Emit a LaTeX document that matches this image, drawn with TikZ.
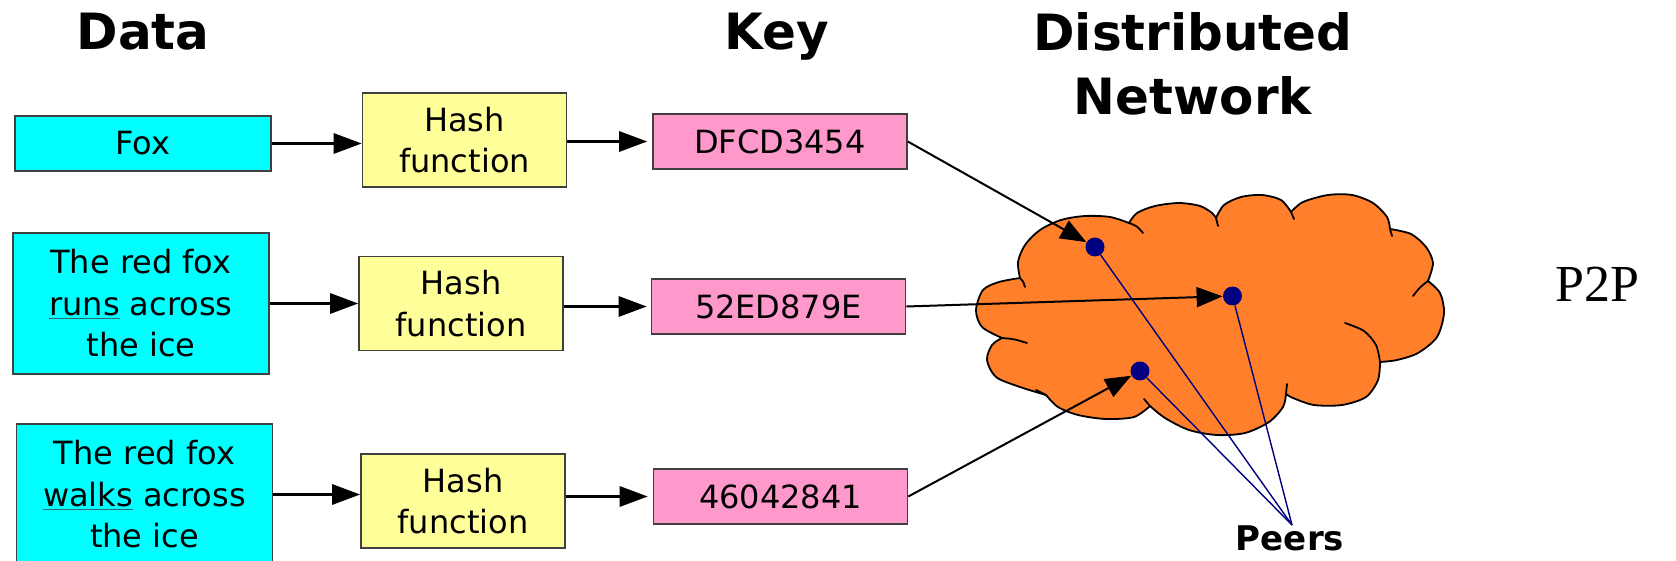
\documentclass[tikz,border=0pt]{standalone}
\usepackage{fontspec}
\setmainfont{DejaVu Sans}
\newfontfamily\ptpfont{Liberation Serif}
\usetikzlibrary{arrows.meta,calc}
\definecolor{datacyan}{HTML}{00FFFF}
\definecolor{hashyellow}{HTML}{FFFF99}
\definecolor{keypink}{HTML}{FF99CC}
\definecolor{cloudorange}{HTML}{FF7F2A}
\definecolor{peernavy}{HTML}{000080}
\definecolor{boxborder}{HTML}{404040}
\definecolor{ulcolor}{HTML}{2F6B6B}
\newcommand{\myul}[1]{\textcolor{ulcolor}{\underline{\textcolor{black}{#1}}}}
\begin{document}
\begin{tikzpicture}[x=0.5pt,y=-0.5pt,
  box/.style={draw=boxborder,line width=0.8pt,inner sep=0pt,align=center,font=\fontsize{16pt}{20.75pt}\selectfont},
  databox/.style={box,fill=datacyan,minimum width=128pt},
  hashbox/.style={box,fill=hashyellow,minimum width=102pt,minimum height=47pt},
  keybox/.style={box,fill=keypink,minimum width=127pt,minimum height=27.5pt},
  titletext/.style={font=\bfseries\fontsize{25pt}{32pt}\selectfont,inner sep=0pt,align=center},
  arr/.style={line width=1.5pt,-{Triangle[length=14pt,width=10pt]}},
  thinarr/.style={line width=1pt,-{Triangle[length=13pt,width=10pt]}},
  peer/.style={circle,fill=peernavy,inner sep=0pt,minimum size=9.5pt},
  peerline/.style={draw=peernavy,line width=0.7pt},
  cloudline/.style={line width=0.9pt,line cap=round,line join=round}
]
\path[use as bounding box,fill=white] (0,0) rectangle (1676,561);

% titles
\node[titletext,anchor=base] (tdata) at (143,50) {Data};
\node[titletext,anchor=base] (tkey) at (776.5,50) {Key};
\node[titletext,anchor=north] (tnet) at (1193,12) {Distributed\\Network};

% data boxes
\node[databox,minimum height=27.5pt] (fox) at (143,143.5) {Fox};
\node[databox,minimum height=70.5pt] (d2) at (141,303.5) {The red fox\\\myul{runs} across\\the ice};
\node[databox,minimum height=70.5pt] (d3) at (144.5,494.5) {The red fox\\\myul{walks} across\\the ice};

% hash boxes
\node[hashbox] (h1) at (464.5,140) {Hash\\function};
\node[hashbox] (h2) at (461,303.5) {Hash\\function};
\node[hashbox] (h3) at (463,501) {Hash\\function};

% key boxes
\node[keybox] (k1) at (780,141.5) {DFCD3454};
\node[keybox] (k2) at (778.5,306.5) {52ED879E};
\node[keybox] (k3) at (780.5,496.5) {46042841};

% cloud
\filldraw[fill=cloudorange,draw=black,cloudline]
  plot[smooth] coordinates {(1020,278) (1018,262) (1025,245) (1040,230) (1061,220) (1085,216) (1110,217) (1129,223)}
  -- plot[smooth] coordinates {(1129,223) (1137,213) (1155,206) (1179,203) (1200,206) (1212,213) (1216,218)}
  -- plot[smooth] coordinates {(1216,218) (1224,205) (1241,197) (1262,195) (1281,200) (1291,212)}
  -- plot[smooth] coordinates {(1291,212) (1303,202) (1328,195) (1352,195) (1373,203) (1387,217) (1390,229)}
  -- plot[smooth] coordinates {(1390,229) (1411,234) (1426,247) (1433,263) (1428,281)}
  -- plot[smooth] coordinates {(1428,281) (1440,293) (1444,313) (1437,337) (1418,353) (1397,360) (1380,362)}
  -- plot[smooth] coordinates {(1380,362) (1378,380) (1366,397) (1342,405) (1314,405) (1293,398) (1286,394)}
  -- plot[smooth] coordinates {(1286,394) (1283,407) (1269,422) (1245,433) (1217,435) (1189,430) (1165,418) (1150,406)}
  -- plot[smooth] coordinates {(1150,406) (1134,417) (1106,419) (1078,415) (1058,407) (1046,395)}
  -- plot[smooth] coordinates {(1046,395) (1020,387) (996,377) (987,360) (992,345) (1002,338)}
  -- plot[smooth] coordinates {(1002,338) (982,327) (976,310) (983,290) (999,282) (1020,278)}
  -- cycle;
% inner curls of the cloud
\draw[cloudline] (1020,278) .. controls (1023,281) .. (1025,287);
\draw[cloudline] (1129,223) .. controls (1137,226) .. (1143,233);
\draw[cloudline] (1216,218) -- (1218,226);
\draw[cloudline] (1291,212) -- (1294,219);
\draw[cloudline] (1390,229) -- (1392,236);
\draw[cloudline] (1428,281) .. controls (1420,287) .. (1413,296);
\draw[cloudline] plot[smooth] coordinates {(1380,362) (1376,345) (1364,331) (1345,323)};
\draw[cloudline] (1286,394) -- (1287,384);
\draw[cloudline] (1150,406) -- (1144,399);
\draw[cloudline] (1046,395) -- (1036,390);
\draw[cloudline] (1002,338) .. controls (1014,339) .. (1027,343);

% peers
\coordinate (peerpt) at (1292,525);
\node[peer] (p1) at (1095,247) {};
\node[peer] (p2) at (1232.5,296) {};
\node[peer] (p3) at (1140,371) {};
\draw[peerline] (p1) -- (peerpt);
\draw[peerline] (p2) -- (peerpt);
\draw[peerline] (p3) -- (peerpt);
\node[font=\bfseries\fontsize{17pt}{20pt}\selectfont,inner sep=0pt,anchor=base] (peers) at (1290,550) {Peers};

% arrows
\draw[arr] (fox.east) -- (fox.east -| h1.west);
\draw[arr] (d2.east) -- (d2.east -| h2.west);
\draw[arr] (d3.east) -- (d3.east -| h3.west);
\draw[arr,shorten >=2.5pt] (k1.west -| h1.east) -- (k1.west);
\draw[arr,shorten >=2pt] (k2.west -| h2.east) -- (k2.west);
\draw[arr,shorten >=2.5pt] (k3.west -| h3.east) -- (k3.west);
\draw[thinarr] (k1.east) -- (p1);
\draw[thinarr] (k2.east) -- (p2);
\draw[thinarr] (k3.east) -- (p3);

% label
\node[font=\ptpfont\fontsize{26pt}{30pt}\selectfont,inner sep=0pt] (p2p) at (1597,284) {P2P};
\end{tikzpicture}
\end{document}
